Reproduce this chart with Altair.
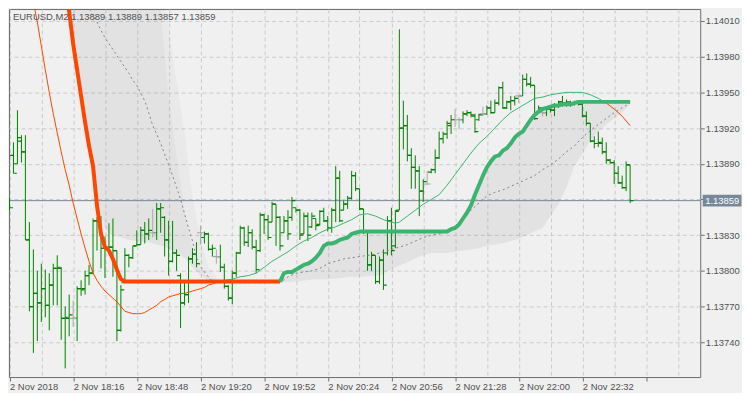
import json
import altair as alt
import pandas as pd

# ---------------- data ----------------
symbol = "EURUSD,M2"
bar_index = list(range(157))
open_ = [1.13856,1.13897,1.13890,1.13909,1.13900,1.13826,1.13770,1.13781,1.13773,1.13785,
         1.13771,1.13788,1.13802,1.13802,1.13760,1.13760,1.13760,1.13760,1.13785,1.13785,
         1.13796,1.13798,1.13842,1.13841,1.13819,1.13819,1.13820,1.13817,1.13750,1.13790,
         1.13813,1.13811,1.13821,1.13822,1.13834,1.13831,1.13832,1.13832,1.13852,1.13845,
         1.13826,1.13808,1.13815,1.13796,1.13773,1.13780,1.13810,1.13814,1.13832,1.13828,
         1.13831,1.13818,1.13812,1.13812,1.13803,1.13787,1.13777,1.13798,1.13815,1.13836,
         1.13824,1.13832,1.13820,1.13817,1.13847,1.13843,1.13841,1.13856,1.13845,1.13832,
         1.13842,1.13845,1.13853,1.13851,1.13831,1.13846,1.13837,1.13844,1.13839,1.13850,
         1.13842,1.13836,1.13851,1.13878,1.13851,1.13856,1.13861,1.13880,1.13869,1.13852,
         1.13833,1.13805,1.13813,1.13791,1.13809,1.13815,1.13842,1.13821,1.13851,1.13920,
         1.13922,1.13897,1.13887,1.13884,1.13867,1.13873,1.13883,1.13885,1.13895,1.13911,
         1.13915,1.13922,1.13927,1.13927,1.13927,1.13932,1.13933,1.13930,1.13927,1.13932,
         1.13932,1.13937,1.13933,1.13941,1.13954,1.13937,1.13942,1.13943,1.13947,1.13947,
         1.13961,1.13957,1.13956,1.13933,1.13933,1.13933,1.13936,1.13935,1.13939,1.13942,
         1.13941,1.13941,1.13940,1.13941,1.13940,1.13930,1.13924,1.13909,1.13907,1.13907,
         1.13900,1.13893,1.13891,1.13882,1.13874,1.13870,1.13889]
high = [1.13861,1.13908,1.13935,1.13914,1.13914,1.13841,1.13818,1.13800,1.13806,1.13801,
        1.13798,1.13806,1.13813,1.13803,1.13770,1.13780,1.13775,1.13787,1.13792,1.13800,
        1.13805,1.13844,1.13845,1.13846,1.13829,1.13840,1.13844,1.13817,1.13788,1.13819,
        1.13814,1.13821,1.13834,1.13837,1.13841,1.13844,1.13852,1.13857,1.13857,1.13846,
        1.13842,1.13842,1.13818,1.13798,1.13791,1.13812,1.13819,1.13824,1.13838,1.13833,
        1.13832,1.13822,1.13818,1.13822,1.13806,1.13788,1.13800,1.13816,1.13838,1.13837,
        1.13838,1.13835,1.13826,1.13849,1.13848,1.13847,1.13858,1.13856,1.13846,1.13846,
        1.13851,1.13862,1.13853,1.13852,1.13849,1.13849,1.13849,1.13844,1.13851,1.13853,
        1.13846,1.13853,1.13888,1.13884,1.13859,1.13863,1.13884,1.13883,1.13869,1.13852,
        1.13834,1.13816,1.13813,1.13812,1.13818,1.13846,1.13853,1.13851,1.14003,1.13943,
        1.13931,1.13903,1.13897,1.13888,1.13877,1.13884,1.13886,1.13902,1.13917,1.13917,
        1.13926,1.13931,1.13936,1.13929,1.13934,1.13935,1.13934,1.13932,1.13932,1.13938,
        1.13939,1.13943,1.13944,1.13955,1.13959,1.13943,1.13947,1.13947,1.13948,1.13965,
        1.13966,1.13963,1.13956,1.13939,1.13937,1.13938,1.13938,1.13941,1.13943,1.13947,
        1.13944,1.13943,1.13943,1.13943,1.13943,1.13934,1.13924,1.13913,1.13917,1.13912,
        1.13908,1.13894,1.13893,1.13888,1.13880,1.13892,1.13889]
low = [1.13851,1.13882,1.13890,1.13891,1.13826,1.13766,1.13731,1.13741,1.13757,1.13761,
       1.13750,1.13771,1.13771,1.13742,1.13718,1.13745,1.13753,1.13741,1.13779,1.13780,
       1.13788,1.13797,1.13817,1.13802,1.13794,1.13817,1.13795,1.13741,1.13749,1.13790,
       1.13803,1.13810,1.13821,1.13822,1.13823,1.13826,1.13828,1.13826,1.13832,1.13812,
       1.13796,1.13807,1.13800,1.13752,1.13771,1.13773,1.13806,1.13803,1.13822,1.13823,
       1.13817,1.13812,1.13806,1.13799,1.13785,1.13775,1.13772,1.13795,1.13814,1.13821,
       1.13820,1.13818,1.13798,1.13816,1.13831,1.13826,1.13841,1.13821,1.13817,1.13832,
       1.13826,1.13842,1.13849,1.13826,1.13831,1.13825,1.13836,1.13834,1.13838,1.13841,
       1.13833,1.13832,1.13841,1.13841,1.13851,1.13852,1.13860,1.13867,1.13851,1.13831,
       1.13800,1.13800,1.13789,1.13789,1.13784,1.13813,1.13813,1.13819,1.13851,1.13902,
       1.13892,1.13869,1.13869,1.13846,1.13858,1.13872,1.13882,1.13882,1.13894,1.13907,
       1.13911,1.13915,1.13921,1.13919,1.13924,1.13930,1.13929,1.13916,1.13926,1.13930,
       1.13931,1.13932,1.13933,1.13939,1.13936,1.13936,1.13935,1.13939,1.13941,1.13947,
       1.13955,1.13954,1.13927,1.13933,1.13930,1.13930,1.13933,1.13930,1.13937,1.13938,
       1.13938,1.13938,1.13939,1.13939,1.13929,1.13922,1.13908,1.13903,1.13904,1.13898,
       1.13890,1.13890,1.13873,1.13873,1.13869,1.13867,1.13857]
close = [1.13853,1.13882,1.13912,1.13900,1.13826,1.13770,1.13781,1.13773,1.13785,1.13771,
         1.13788,1.13802,1.13803,1.13760,1.13761,1.13763,1.13760,1.13785,1.13784,1.13796,
         1.13798,1.13842,1.13841,1.13819,1.13820,1.13820,1.13817,1.13750,1.13784,1.13813,
         1.13811,1.13821,1.13822,1.13834,1.13831,1.13834,1.13832,1.13852,1.13853,1.13826,
         1.13808,1.13815,1.13813,1.13773,1.13780,1.13810,1.13814,1.13806,1.13832,1.13831,
         1.13818,1.13819,1.13812,1.13803,1.13787,1.13777,1.13798,1.13815,1.13836,1.13824,
         1.13832,1.13820,1.13801,1.13847,1.13843,1.13828,1.13856,1.13845,1.13821,1.13842,
         1.13831,1.13859,1.13851,1.13830,1.13846,1.13830,1.13846,1.13838,1.13850,1.13842,
         1.13836,1.13851,1.13878,1.13842,1.13856,1.13861,1.13880,1.13869,1.13852,1.13833,
         1.13805,1.13813,1.13791,1.13809,1.13788,1.13842,1.13817,1.13850,1.13920,1.13922,
         1.13897,1.13887,1.13884,1.13867,1.13875,1.13873,1.13885,1.13895,1.13911,1.13915,
         1.13924,1.13927,1.13927,1.13927,1.13932,1.13933,1.13931,1.13917,1.13931,1.13932,
         1.13937,1.13933,1.13941,1.13954,1.13937,1.13942,1.13943,1.13945,1.13947,1.13961,
         1.13957,1.13956,1.13928,1.13937,1.13933,1.13936,1.13935,1.13939,1.13942,1.13941,
         1.13942,1.13940,1.13941,1.13940,1.13930,1.13924,1.13909,1.13907,1.13908,1.13900,
         1.13893,1.13891,1.13882,1.13874,1.13870,1.13889,1.13859]

# thick stepped trend line (red = down, green = up)
thick_red_i = [14, 15, 16, 17, 18, 19, 20, 21, 22, 23, 24, 25, 26, 27, 28, 29, 68]
thick_red_v = [1.14046, 1.14018, 1.13991, 1.13969, 1.13947, 1.13925, 1.13905, 1.13888, 1.13855,
               1.13831, 1.13820, 1.13817, 1.13810, 1.13801, 1.13793, 1.13791, 1.13791]
thick_green_i = [68, 69, 70, 71, 72, 73, 74, 75, 76, 77, 78, 79, 80, 81, 82, 83, 84, 85, 86, 87, 88,
                 110, 111, 112, 113, 114, 115, 116, 117, 118, 119, 120, 121, 122, 123, 124, 125,
                 126, 127, 128, 129, 130, 131, 132, 133, 134, 135, 136, 137, 138, 139, 140, 141,
                 142, 143, 156]
thick_green_v = [1.13791, 1.13798, 1.13799, 1.13799, 1.13801, 1.13803, 1.13805, 1.13806, 1.13808,
                 1.13811, 1.13815, 1.13821, 1.13823, 1.13823, 1.13824, 1.13826, 1.13827, 1.13828,
                 1.13831, 1.13832, 1.13833, 1.13833, 1.13835, 1.13836, 1.13839, 1.13844, 1.13849,
                 1.13855, 1.13864, 1.13872, 1.13880, 1.13887, 1.13892, 1.13896, 1.13897, 1.13901,
                 1.13903, 1.13907, 1.13912, 1.13915, 1.13917, 1.13922, 1.13927, 1.13931, 1.13934,
                 1.13936, 1.13937, 1.13938, 1.13939, 1.13939, 1.13940, 1.13940, 1.13940, 1.13941,
                 1.13942, 1.13942]

# thin smoothed line
thin_red_i = list(range(6, 53))
thin_red_v = [1.14026, 1.14009, 1.13989, 1.13969, 1.13950, 1.13932, 1.13916, 1.13900, 1.13885,
              1.13872, 1.13857, 1.13844, 1.13831, 1.13819, 1.13808, 1.13798, 1.13792, 1.13787,
              1.13783, 1.13780, 1.13777, 1.13774, 1.13770, 1.13766, 1.13765, 1.13764, 1.13764,
              1.13764, 1.13765, 1.13767, 1.13769, 1.13771, 1.13774, 1.13776, 1.13778, 1.13779,
              1.13780, 1.13781, 1.13781, 1.13782, 1.13783, 1.13784, 1.13785, 1.13786, 1.13788,
              1.13789, 1.13790]
thin_green_i = [52, 54, 56, 58, 60, 62, 64, 66, 68, 70, 72, 74, 76, 78, 80, 82, 84, 86, 88, 90, 92,
                94, 96, 97, 98, 100, 102, 104, 106, 108, 110, 112, 114, 116, 118, 120, 122, 124,
                126, 128, 130, 132, 134, 136, 138, 140, 142, 144, 146, 148, 149]
thin_green_v = [1.13790, 1.13792, 1.13793, 1.13795, 1.13796, 1.13798, 1.13803, 1.13808, 1.13812,
                1.13816, 1.13821, 1.13825, 1.13828, 1.13832, 1.13835, 1.13837, 1.13840, 1.13843,
                1.13847, 1.13848, 1.13846, 1.13843, 1.13841, 1.13840, 1.13841, 1.13846, 1.13851,
                1.13856, 1.13860, 1.13864, 1.13872, 1.13881, 1.13890, 1.13899, 1.13907, 1.13913,
                1.13920, 1.13927, 1.13933, 1.13937, 1.13941, 1.13945, 1.13946, 1.13948, 1.13949,
                1.13950, 1.13950, 1.13950, 1.13948, 1.13945, 1.13943]
thin_red2_i = [149, 150, 152, 154, 156]
thin_red2_v = [1.13943, 1.13941, 1.13936, 1.13930, 1.13922]

# dashed middle line
dash_i = [19, 20, 21, 22, 23, 24, 25, 26, 27, 28, 29, 30, 31, 32, 33, 34, 35, 36, 37, 38, 39, 40,
          41, 42, 43, 44, 45, 46, 47, 48, 49, 50, 51, 52, 68, 70, 72, 74, 76, 78, 80, 82, 84, 86,
          88, 90, 92, 94, 96, 98, 100, 102, 104, 106, 108, 110, 112, 114, 116, 118, 120, 122, 124,
          126, 128, 130, 132, 134, 136, 138, 140, 142, 144, 146, 148, 150, 152, 154, 156]
dash_v = [1.14032, 1.14021, 1.14014, 1.14009, 1.14002, 1.13996, 1.13991, 1.13986, 1.13981, 1.13976,
          1.13971, 1.13966, 1.13960, 1.13956, 1.13949, 1.13943, 1.13933, 1.13922, 1.13915, 1.13907,
          1.13898, 1.13889, 1.13880, 1.13870, 1.13860, 1.13848, 1.13836, 1.13825, 1.13811, 1.13804,
          1.13799, 1.13795, 1.13791, 1.13790, 1.13790, 1.13795, 1.13798, 1.13799, 1.13800, 1.13802,
          1.13806, 1.13808, 1.13810, 1.13811, 1.13812, 1.13813, 1.13814, 1.13816, 1.13818, 1.13820,
          1.13822, 1.13825, 1.13828, 1.13830, 1.13831, 1.13833, 1.13838, 1.13843, 1.13851, 1.13857,
          1.13863, 1.13866, 1.13868, 1.13871, 1.13874, 1.13877, 1.13880, 1.13885, 1.13889, 1.13894,
          1.13900, 1.13905, 1.13912, 1.13918, 1.13923, 1.13928, 1.13933, 1.13937, 1.13941]

# shaded channel (inner, darker)
band_i = [15, 16, 17, 18, 19, 20, 21, 22, 23, 24, 25, 26, 28, 30, 35, 37,
          38, 39, 40, 42, 44, 46, 48, 50, 52, 67, 68,
          72, 77, 80, 83, 86, 88, 93, 97, 100, 103, 106, 110,
          112, 114, 116, 118, 120, 122, 125, 128, 130, 132, 134, 136, 138, 140, 142, 144, 146,
          148, 150, 152, 154, 156]
band_hi = [1.14040] * 16 + [1.14020, 1.13984, 1.13947, 1.13897, 1.13851, 1.13817, 1.13800, 1.13795,
           1.13792, 1.13791, 1.13791,
           1.13801, 1.13811, 1.13823, 1.13826, 1.13831, 1.13833, 1.13833, 1.13833, 1.13833, 1.13833,
           1.13833, 1.13833,
           1.13836, 1.13844, 1.13855, 1.13872, 1.13887, 1.13896, 1.13903, 1.13915, 1.13922, 1.13931,
           1.13936, 1.13938, 1.13939, 1.13940, 1.13941, 1.13942, 1.13942, 1.13942, 1.13942, 1.13942,
           1.13942, 1.13942]
band_lo = [1.14018, 1.13991, 1.13969, 1.13947, 1.13925, 1.13905, 1.13888, 1.13863, 1.13846, 1.13836,
           1.13831, 1.13830, 1.13828, 1.13826, 1.13824, 1.13822,
           1.13821, 1.13820, 1.13819, 1.13815, 1.13811, 1.13803, 1.13796, 1.13792, 1.13790, 1.13790,
           1.13790,
           1.13791, 1.13793, 1.13793, 1.13794, 1.13795, 1.13795, 1.13796, 1.13803, 1.13807, 1.13812,
           1.13815, 1.13815,
           1.13816, 1.13817, 1.13818, 1.13819, 1.13821, 1.13822, 1.13824, 1.13827, 1.13830, 1.13833,
           1.13836, 1.13846, 1.13856, 1.13870, 1.13888, 1.13898, 1.13910, 1.13917, 1.13923, 1.13928,
           1.13933, 1.13940]
# outer, lighter edge of the channel
band2_i = [38, 39, 40, 42, 44, 46, 48, 50, 52]
band2_hi = [1.14040, 1.14022, 1.14005, 1.13959, 1.13917, 1.13863, 1.13826, 1.13803, 1.13795]
band2_lo = [1.14020, 1.13984, 1.13947, 1.13897, 1.13851, 1.13817, 1.13800, 1.13795, 1.13792]

x_labels = ["2 Nov 2018", "2 Nov 18:16", "2 Nov 18:48", "2 Nov 19:20", "2 Nov 19:52",
            "2 Nov 20:24", "2 Nov 20:56", "2 Nov 21:28", "2 Nov 22:00", "2 Nov 22:32"]
y_ticks = [1.13740, 1.13770, 1.13800, 1.13830, 1.13860, 1.13890, 1.13920, 1.13950, 1.13980, 1.14010]

# ---------------- chart ----------------
W, H = 695, 370
FONT = "Liberation Sans"
TXT = "#505050"
FRAME = "#6e6e6e"

xs = alt.Scale(domain=[-0.125, 173.625], nice=False, zero=False)
ys = alt.Scale(domain=[1.1371074, 1.1402003], nice=False, zero=False)

lab_expr = ("(datum.value % 16 == 0 && datum.value <= 144) ? "
            + json.dumps(x_labels) + "[datum.value / 16] : ''")
x_axis = alt.Axis(values=list(range(0, 169, 8)), labelExpr=lab_expr, grid=True,
                  gridColor="#cbcbcb", gridDash=[4, 3], gridWidth=1, domain=False,
                  tickSize=4, tickColor={"condition": {"test": "datum.value % 16 == 0",
                                                       "value": FRAME},
                                         "value": "rgba(0,0,0,0)"},
                  labelAlign="left", labelPadding=1, labelFont=FONT, labelFontSize=9.5,
                  labelColor=TXT, labelFlush=False, labelOverlap=False, labelBound=False,
                  title=None)
y_axis = alt.Axis(orient="right", values=y_ticks, grid=True, gridColor="#cbcbcb",
                  gridDash=[4, 3], gridWidth=1, domain=False, tickSize=4, tickColor=FRAME,
                  labelExpr="abs(datum.value - 1.1386) < 0.000001 ? '' : format(datum.value, '.5f')",
                  labelPadding=1, labelFont=FONT, labelFontSize=9.5, labelColor=TXT,
                  labelOverlap=False, labelBound=False, labelFlush=False, title=None)


def X(f):
    return alt.X(f, type="quantitative", scale=xs, axis=x_axis)


def Y(f):
    return alt.Y(f, type="quantitative", scale=ys, axis=y_axis)


bars = pd.DataFrame({"i": bar_index, "o": open_, "h": high, "l": low, "c": close})
bars["kind"] = ["flat" if abs(o - c) < 1e-9 else "bar" for o, c in zip(bars.o, bars.c)]
bars["il"] = bars.i - 0.85
bars["ir"] = bars.i + 0.85
bar_color = alt.Color("kind:N", scale=alt.Scale(domain=["bar", "flat"],
                                                range=["#008000", "#a8a8a8"]), legend=None)

band2 = alt.Chart(pd.DataFrame({"i": band2_i, "hi": band2_hi, "lo": band2_lo})).mark_area(
    color="#000000", opacity=0.028, clip=True).encode(x=X("i"), y=Y("hi"), y2="lo")
band1 = alt.Chart(pd.DataFrame({"i": band_i, "hi": band_hi, "lo": band_lo})).mark_area(
    color="#000000", opacity=0.055, clip=True).encode(x=X("i"), y=Y("hi"), y2="lo")

price_df = pd.DataFrame({"p": [close[-1]], "label": [f"{close[-1]:.5f}"]})
price_line = alt.Chart(price_df).mark_rule(color="#778899", strokeWidth=1).encode(y=Y("p"))

vert = alt.Chart(bars).mark_rule(strokeWidth=1, clip=True).encode(
    x=X("i"), y=Y("l"), y2="h", color=bar_color)
otick = alt.Chart(bars).mark_rule(strokeWidth=1.2, clip=True).encode(
    x=X("il"), x2="i", y=Y("o"), color=bar_color)
ctick = alt.Chart(bars).mark_rule(strokeWidth=1.2, clip=True).encode(
    x=X("i"), x2="ir", y=Y("c"), color=bar_color)


def line(ix, vals, color, width, dash=None):
    kw = dict(color=color, strokeWidth=width, clip=True, strokeJoin="round")
    if dash:
        kw["strokeDash"] = dash
    return alt.Chart(pd.DataFrame({"i": ix, "v": vals})).mark_line(**kw).encode(
        x=X("i"), y=Y("v"))


RED = "#ff4500"
GREEN = "#3cb371"
dashed = line(dash_i, dash_v, "#808080", 1, [2, 3])
thin1 = line(thin_red_i, thin_red_v, RED, 1)
thin2 = line(thin_green_i, thin_green_v, GREEN, 1)
thin3 = line(thin_red2_i, thin_red2_v, RED, 1)
thick1 = line(thick_red_i, thick_red_v, RED, 4)
thick2 = line(thick_green_i, thick_green_v, GREEN, 4)

hdr = pd.DataFrame({"t": [f"{symbol} {open_[-1]:.5f} {high[-1]:.5f} {low[-1]:.5f} {close[-1]:.5f}"]})
header = alt.Chart(hdr).mark_text(align="left", baseline="alphabetic", font=FONT,
                                  fontSize=9.5, color=TXT).encode(
    x=alt.value(4), y=alt.value(11), text="t:N")

price_box = alt.Chart(price_df).mark_rect(color="#778899", yOffset=-6, y2Offset=6,
                                          clip=False).encode(
    x=alt.value(W + 2.5), x2=alt.value(W + 41.5), y=Y("p"), y2="p")
price_txt = alt.Chart(price_df).mark_text(align="left", baseline="middle", font=FONT,
                                          fontSize=9.5, color="white").encode(
    x=alt.value(W + 5), y=Y("p"), text="label:N")

chart = alt.layer(band2, band1, price_line, vert, otick, ctick, dashed, thin1, thin2, thin3,
                  thick1, thick2, header, price_box, price_txt).properties(
    width=W, height=H, padding={"left": 0, "top": 0, "right": 0, "bottom": 0},
    background="#f0f0f0").configure_view(fill="#f0f0f0", stroke=FRAME, strokeWidth=1)

chart.save("out.html", embed_options={"renderer": "svg", "actions": False})
